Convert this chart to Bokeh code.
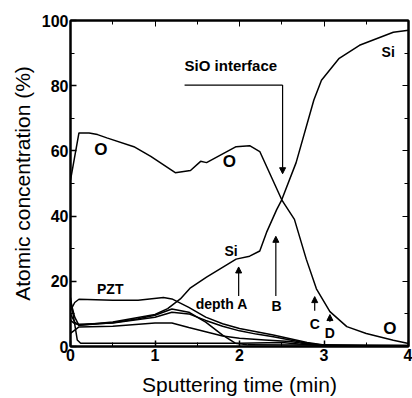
from bokeh.plotting import figure
from bokeh.models import (Range1d, LinearAxis, SingleIntervalTicker, Arrow,
                          NormalHead, CustomJSTickFormatter)
from bokeh.core.properties import value
from bokeh.embed import file_html
from bokeh.resources import INLINE

# ---- data ----
o_x = [0, 0.1, 0.22, 0.32, 0.43, 0.75, 0.95, 1.24, 1.42, 1.54, 1.61, 1.96, 2.12,
       2.24, 2.5, 2.65, 2.79, 2.91, 3.07, 3.27, 3.5, 3.82, 4.0]
o_y = [51, 65.5, 65.5, 65, 64, 61.3, 58.3, 53.3, 54, 56.8, 56.4, 61.3, 61.6,
       59.8, 45, 39, 26.8, 17.7, 10.7, 6.1, 4.0, 1.9, 0.9]

si_x = [0, 0.05, 0.1, 0.5, 1.0, 1.15, 1.3, 1.42, 1.61, 1.96, 2.12, 2.24, 2.32,
        2.44, 2.5, 2.67, 2.88, 2.97, 3.18, 3.42, 3.82, 4.0]
si_y = [10, 7.5, 6.5, 7.5, 9.8, 11.6, 14.6, 18, 21.3, 26.8, 27.7, 29.3, 35,
        42, 45, 56.4, 75.6, 81.7, 88.4, 92.4, 96.4, 97]

l1_x = [0, 0.05, 0.1, 0.5, 0.8, 1.1, 1.2, 1.4, 1.6, 1.8, 2.0, 2.2, 2.4, 2.6, 2.8, 3.0, 3.5, 4.0]
l1_y = [11, 13.5, 14.5, 14.2, 14.2, 15, 14.6, 12, 9, 7, 5.5, 4.5, 3.5, 2.4, 1.2, 0.5, 0.3, 0.3]

l2_x = [0, 0.05, 0.1, 0.5, 0.8, 1.0, 1.2, 1.4, 1.6, 1.8, 1.95, 2.1, 4.0]
l2_y = [14, 9, 6.5, 7.3, 8.5, 9.6, 11.5, 10.5, 7.5, 3.5, 1.0, 0.5, 0.3]

l3_x = [0, 0.05, 0.1, 0.5, 1.0, 1.2, 1.4, 1.6, 1.8, 2.0, 2.2, 2.4, 2.6, 2.8, 3.0, 4.0]
l3_y = [8, 7, 6.8, 7.2, 9, 10.5, 10, 8, 6.2, 4.8, 3.8, 3.0, 2.0, 1.0, 0.4, 0.2]

l4_x = [0, 0.05, 0.1, 0.5, 1.0, 1.2, 1.4, 1.6, 1.8, 2.0, 2.3, 2.6, 2.8, 3.0, 4.0]
l4_y = [4, 5, 6, 6.2, 7.2, 7.2, 5.8, 4.5, 3.2, 2.5, 2.0, 1.5, 0.8, 0.3, 0.2]

l5_x = [0, 0.03, 0.08, 0.12, 1.0, 2.0, 2.5, 2.7, 3.0, 4.0]
l5_y = [15, 10, 2, 1, 1, 1, 1.2, 0.8, 0.3, 0.2]

# labels
lab_text = ["O", "O", "O", "Si", "Si", "PZT", "depth A", "B", "C", "D"]
lab_x = [0.36, 1.88, 3.78, 3.76, 1.9, 0.47, 1.79, 2.44, 2.89, 3.07]
lab_y = [60.4, 56.7, 5.5, 90.2, 29.3, 17.7, 13.1, 12.5, 7.0, 4.0]
lab_big = [True, True, True, False, False, False, False, False, False, False]

# arrows: x, y_start, y_end
arr_x = [1.99, 2.43, 2.89, 3.07]
arr_y0 = [15.5, 15.5, 11.0, 7.6]
arr_y1 = [24.4, 33.8, 15.3, 9.8]

# SiO interface bracket
sio_x = [1.35, 2.51]
sio_y = [80.2, 53.0]

p = figure(width=412, height=398, x_range=Range1d(0, 4), y_range=Range1d(0, 100),
           output_backend="svg", toolbar_location=None,
           min_border_left=70, min_border_right=4, min_border_top=20, min_border_bottom=50)
p.xgrid.visible = False
p.ygrid.visible = False
p.outline_line_color = "black"
p.outline_line_width = 2
p.background_fill_color = "white"
p.border_fill_color = "white"

for ax, interval in ((p.xaxis[0], 1), (p.yaxis[0], 20)):
    ax.ticker = SingleIntervalTicker(interval=interval, num_minor_ticks=2)
    ax.major_tick_in = 6
    ax.major_tick_out = 0
    ax.minor_tick_in = 4
    ax.minor_tick_out = 0
    ax.axis_line_width = 2
    ax.major_tick_line_width = 1.5
    ax.major_label_text_font = "Liberation Sans"
    ax.major_label_text_font_style = "bold"
    ax.major_label_text_font_size = "16px"
    ax.major_label_text_color = "black"
    ax.major_label_standoff = 2
    ax.axis_label_text_font = "Liberation Sans"
    ax.axis_label_text_font_style = "normal"
    ax.axis_label_text_font_size = "21px"
    ax.axis_label_text_color = "black"

p.xaxis.axis_label = "Sputtering time (min)"
p.yaxis.axis_label = "Atomic concentration (%)"
p.xaxis.axis_label_standoff = 9
p.yaxis.axis_label_standoff = 5

for loc, interval in (("right", 20), ("above", 1)):
    a = LinearAxis(ticker=SingleIntervalTicker(interval=interval, num_minor_ticks=2),
                   formatter=CustomJSTickFormatter(code="return ''"))
    a.major_tick_in = 6
    a.major_tick_out = 0
    a.minor_tick_in = 4
    a.minor_tick_out = 0
    a.axis_line_width = 2
    a.major_label_standoff = 0
    p.add_layout(a, loc)

for xs, ys in ((o_x, o_y), (si_x, si_y), (l1_x, l1_y), (l2_x, l2_y),
               (l3_x, l3_y), (l4_x, l4_y), (l5_x, l5_y)):
    p.line(xs, ys, line_color="black", line_width=1.5)

# labels
for t, x, y, big in zip(lab_text, lab_x, lab_y, lab_big):
    p.text([x], [y], text=[t], text_font=value("Liberation Sans"),
           text_font_size="17px" if big else "14px",
           text_font_style="bold",
           text_align="center", text_baseline="middle", text_color="black")

p.text([sio_x[0]], [sio_y[0] + 3.5], text=["SiO interface"], text_font=value("Liberation Sans"),
       text_font_size="15px", text_font_style="bold", text_align="left",
       text_baseline="bottom", text_color="black")
p.line([sio_x[0], sio_x[1]], [sio_y[0], sio_y[0]], line_color="black", line_width=1.2)
p.add_layout(Arrow(x_start=sio_x[1], y_start=sio_y[0], x_end=sio_x[1], y_end=sio_y[1],
                   line_color="black", line_width=1.2,
                   end=NormalHead(size=6, fill_color="black", line_color="black")))

for x, y0, y1 in zip(arr_x, arr_y0, arr_y1):
    p.add_layout(Arrow(x_start=x, y_start=y0, x_end=x, y_end=y1,
                       line_color="black", line_width=1.2,
                       end=NormalHead(size=6, fill_color="black", line_color="black")))

open("out.html", "w").write(file_html(p, INLINE))
